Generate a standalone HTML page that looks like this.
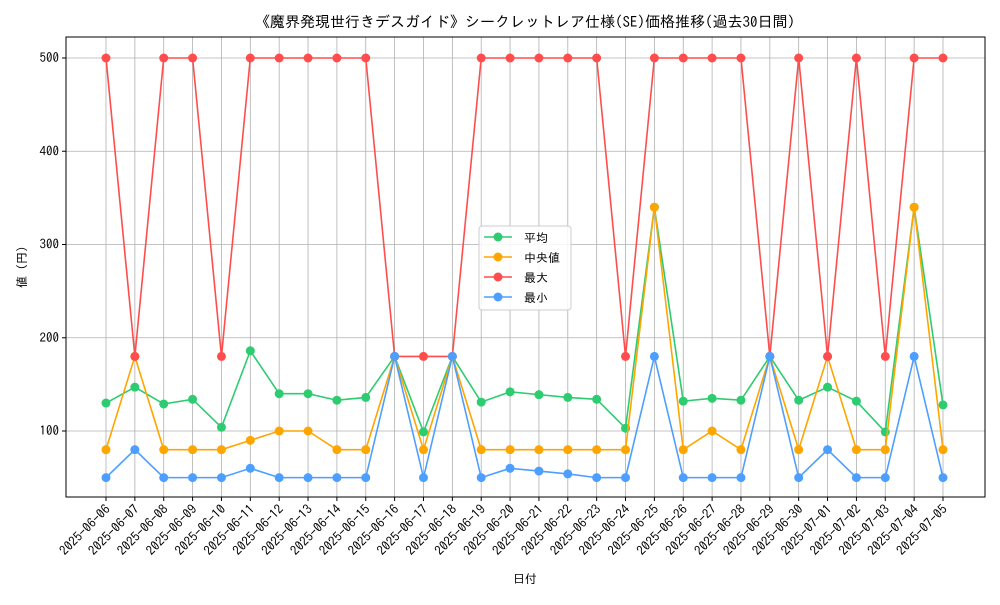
<!DOCTYPE html>
<html><head><meta charset="utf-8"><style>
body{margin:0;background:#fff;}
svg text{font-family:"IPAGothic","Liberation Sans","Noto Sans CJK JP",sans-serif;fill:#000;}
</style></head><body>
<svg id="c" width="1000" height="600" xmlns="http://www.w3.org/2000/svg"></svg>
<script>
const dates=["2025-06-06","2025-06-07","2025-06-08","2025-06-09","2025-06-10","2025-06-11","2025-06-12","2025-06-13","2025-06-14","2025-06-15","2025-06-16","2025-06-17","2025-06-18","2025-06-19","2025-06-20","2025-06-21","2025-06-22","2025-06-23","2025-06-24","2025-06-25","2025-06-26","2025-06-27","2025-06-28","2025-06-29","2025-06-30","2025-07-01","2025-07-02","2025-07-03","2025-07-04","2025-07-05"];
const meanVals=[130,147,129,134,104,186,140,140,133,136,180,99,180,131,142,139,136,134,103,340,132,135,133,180,133,147,132,99,340,128];
const medianVals=[80,180,80,80,80,90,100,100,80,80,180,80,180,80,80,80,80,80,80,340,80,100,80,180,80,180,80,80,340,80];
const maxVals=[500,180,500,500,180,500,500,500,500,500,180,180,180,500,500,500,500,500,180,500,500,500,500,180,500,180,500,180,500,500];
const minVals=[50,80,50,50,50,60,50,50,50,50,180,50,180,50,60,57,54,50,50,180,50,50,50,180,50,80,50,50,180,50];
const yTicks=[100,200,300,400,500];
const seriesNames=["平均","中央値","最大","最小"];
const NS="http://www.w3.org/2000/svg";
const svg=document.getElementById('c');
function el(t,a,p){const e=document.createElementNS(NS,t);for(const k in a)e.setAttribute(k,a[k]);(p||svg).appendChild(e);return e;}
const L=66,R=985,T=37,B=497;
const xs=i=>106+i*(943-106)/(dates.length-1);
const ys=v=>431-(v-100)*(373/400);
dates.forEach((d,i)=>{const g=el('line',{x1:xs(i),x2:xs(i),y1:T,y2:B,stroke:'#b0b0b0','stroke-width':0.8});

el('line',{x1:xs(i),x2:xs(i),y1:B,y2:B+4,stroke:'#000'});
const t=el('text',{x:0,y:0,'font-size':13,'text-anchor':'end',transform:`translate(${xs(i)+5},${B+13}) rotate(-45)`});t.textContent=d;
});
yTicks.forEach(v=>{const g=el('line',{x1:L,x2:R,y1:ys(v),y2:ys(v),stroke:'#b0b0b0','stroke-width':0.8});

el('line',{x1:L-4,x2:L,y1:ys(v),y2:ys(v),stroke:'#000'});
const t=el('text',{x:L-7,y:ys(v)+4,'font-size':13,'text-anchor':'end'});t.textContent=v;
});
const fr=el('rect',{x:L,y:T,width:R-L,height:B-T,fill:'none',stroke:'#000','stroke-width':1});

const series=[[meanVals,'#2ecc71','mean'],[medianVals,'#ffa500','median'],[maxVals,'#ff4d4d','max'],[minVals,'#4d9fff','min']];
series.forEach(([vals,col,nm])=>{
const p=el('polyline',{points:vals.map((v,i)=>xs(i)+','+ys(v)).join(' '),fill:'none',stroke:col,'stroke-width':1.6});

vals.forEach((v,i)=>{const c=el('circle',{cx:xs(i),cy:ys(v),r:4.5,fill:col});
});});
const lg=el('g',{});
el('rect',{x:479,y:226,width:92,height:84,fill:'#fff','fill-opacity':0.85,stroke:'#ccc',rx:3},lg);
series.forEach(([v,col,nm],k)=>{const y=237+k*20;
el('line',{x1:484,x2:512,y1:y,y2:y,stroke:col,'stroke-width':1.6},lg);
el('circle',{cx:498,cy:y,r:4.5,fill:col},lg);
const t=el('text',{x:524,y:y+5,'font-size':12},lg);t.textContent=seriesNames[k];
});
const ti=el('text',{x:525,y:27,'font-size':15,'text-anchor':'middle'});ti.textContent='《魔界発現世行きデスガイド》シークレットレア仕様(SE)価格推移(過去30日間)';

const xt=el('text',{x:525,y:583,'font-size':12,'text-anchor':'middle'});xt.textContent='日付';

const yt=el('text',{x:0,y:0,'font-size':12,'text-anchor':'middle',transform:'translate(26,267) rotate(-90)'});yt.textContent='値 (円)';

</script>
</body></html>
